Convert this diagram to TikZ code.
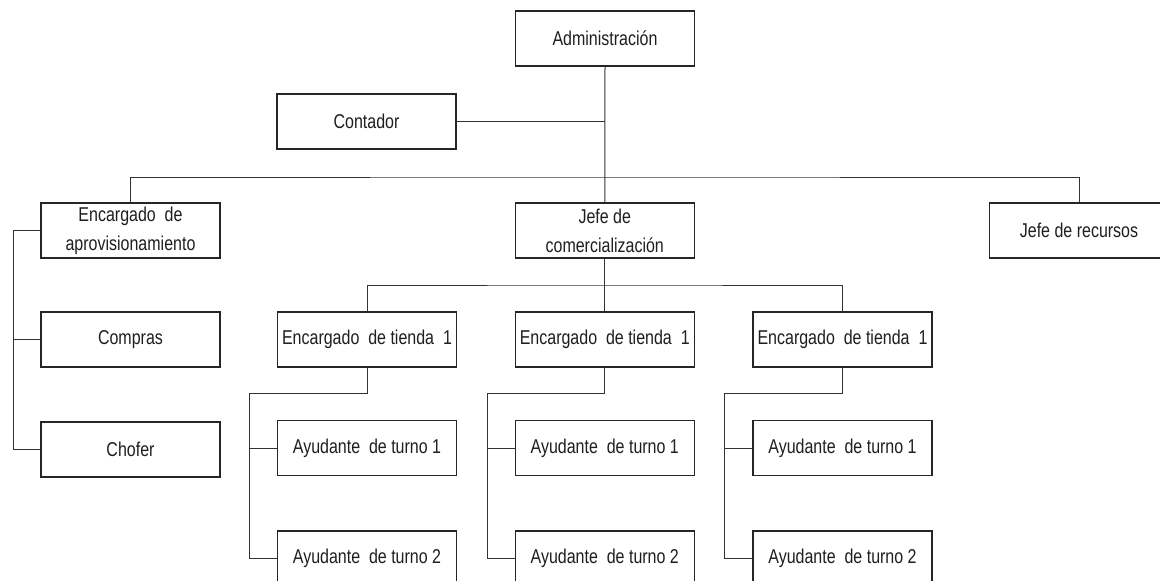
\documentclass[tikz,border=0pt]{standalone}
\usepackage{fontspec}
\setmainfont[FakeStretch=0.8]{Liberation Sans}
\begin{document}
\begin{tikzpicture}[x=1pt,y=-1pt,
  box/.style={draw=black!85, line width=1.2pt, fill=white, minimum width=179pt, minimum height=55pt,
    inner sep=0pt, align=center, text=black!88, font=\fontsize{20}{29}\selectfont},
  link/.style={draw=black!80, line width=1pt}]
\useasboundingbox (0,0) rectangle (1160,581);
\fill[white] (0,0) rectangle (1160,581);
\clip (0,0) rectangle (1160,581);
% nodes
\node[box] (adm)   at (605,38.5)    {Administración};
\node[box] (cont)  at (366.5,121.5) {Contador};
\node[box] (aprov) at (130.5,230.5) {Encargado\ \ de\\aprovisionamiento};
\node[box] (jcom)  at (604.75,230.5) {Jefe de\\comercialización};
\node[box] (jrec)  at (1079,230.5)  {Jefe de recursos};
\node[box] (comp)  at (130.5,339.5) {Compras};
\node[box] (chof)  at (130.5,449.5) {Chofer};
\foreach \i/\x in {1/367,2/604.75,3/842.5}{
  \node[box] (e\i)  at (\x,339.5) {Encargado\ \ de tienda\ \ 1};
  \node[box] (a1\i) at (\x,448)   {Ayudante\ \ de turno 1};
  \node[box] (a2\i) at (\x,558.5) {Ayudante\ \ de turno 2};
}
% connector points
\coordinate (b1) at (605,177);
\coordinate (b2) at (604.75,285);
\coordinate (la) at (13,230.5);
\coordinate (k1) at (249,393);
\coordinate (k2) at (487,393);
\coordinate (k3) at (724,393);
% connectors
\draw[link] (adm.south) -- (jcom.north);
\draw[link] (cont.east) -- (cont.east -| adm.south);
\draw[link] (aprov.north) |- (b1) -| (jrec.north);
\draw[link] (jcom.south) -- (e2.north);
\draw[link] (e1.north) |- (b2) -| (e3.north);
\draw[link] (aprov.west) -- (la) |- (chof.west);
\draw[link] (comp.west) -- (comp.west -| la);
\foreach \i in {1,2,3}{
  \draw[link] (e\i.south) |- (k\i) |- (a2\i.west);
  \draw[link] (a1\i.west) -- (a1\i.west -| k\i);
}
\end{tikzpicture}
\end{document}
